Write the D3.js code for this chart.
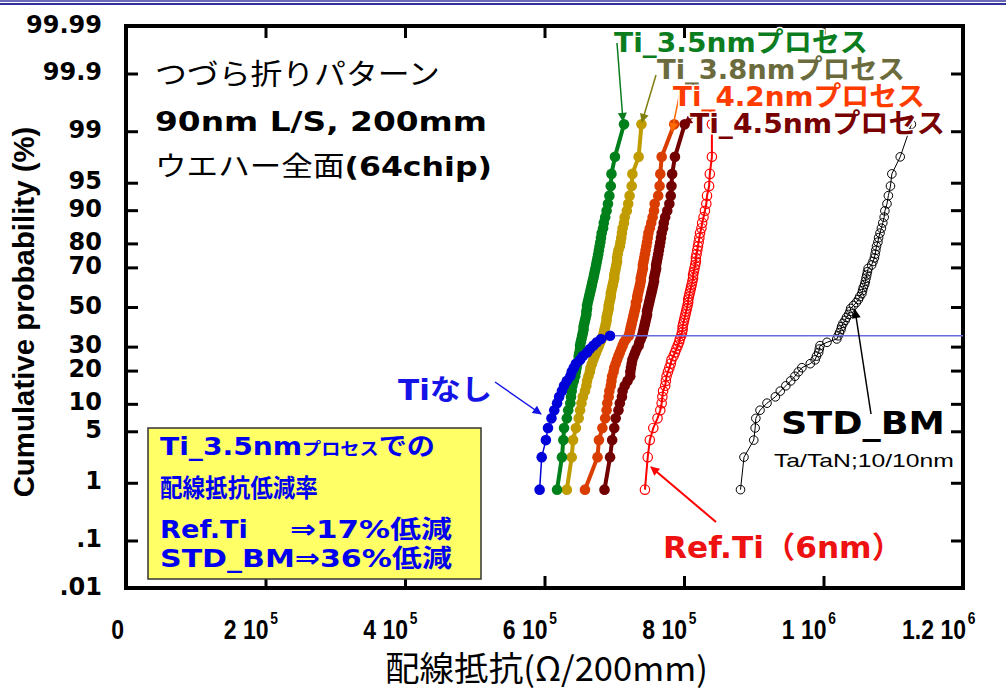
<!DOCTYPE html>
<html>
<head>
<meta charset="utf-8">
<script src="https://cdn.jsdelivr.net/npm/d3@7"></script>
<style>
body { margin: 0; background: #fff; }
svg { display: block; }
</style>
</head>
<body>
<svg width="1006" height="690"></svg>
<script>
// wiring resistance per chip, kOhm, sorted (64 chips per wafer)
const CHIPS = 64;
const tiNone = [593,596,602,605,610,614,618,621,625,628,632,637,639,642,645,651,655,661,665,670,675,681,694];
const ti35 = [618,625,627,628,632,634,637,638,639,640,642,644,645,646,647,649,649,650,651,651,
  652,653,654,655,656,656,657,658,659,660,660,661,661,662,663,664,665,666,667,668,
  669,670,671,672,673,674,675,676,677,678,679,680,681,682,684,685,687,689,691,693,695,696,701,714];
const ti38 = [632,639,641,645,649,651,653,655,658,660,661,663,665,666,668,670,672,674,676,678,
  680,682,684,685,686,687,688,689,689,690,691,692,692,693,694,695,695,696,697,698,
  699,700,700,701,702,703,704,704,705,706,708,709,710,711,712,714,715,718,720,722,725,726,735,739];
const ti42 = [658,676,678,683,687,689,690,692,693,695,696,697,699,700,702,704,706,708,710,712,
  714,717,721,722,723,724,725,726,727,728,729,730,731,731,733,733,734,735,736,737,
  738,738,739,740,741,741,742,743,744,745,746,747,748,749,751,753,755,757,758,763,765,766,768,786];
const ti45 = [686,694,697,700,702,706,708,711,712,715,719,723,723,724,725,726,728,730,732,735,
  736,738,740,741,742,743,744,745,746,747,747,748,749,750,751,752,753,754,755,756,
  757,757,758,759,760,760,761,762,763,764,765,766,767,768,770,771,773,776,779,781,782,783,787,801];
const refTi = [744,748,751,756,762,766,768,769,770,773,774,775,777,779,781,782,785,787,789,791,
  793,794,796,797,798,798,799,800,801,802,803,804,805,806,806,807,808,809,810,811,
  812,813,813,814,815,816,817,817,818,819,820,821,822,823,825,826,828,830,832,833,836,837,840,840];
const stdBM = [881,886,900,902,903,909,919,931,938,946,953,959,964,969,981,988,990,993,994,995,
  1005,1019,1021,1023,1025,1026,1028,1031,1033,1036,1038,1039,1043,1047,1050,1052,1055,1056,1057,1059,
  1060,1061,1062,1063,1064,1069,1071,1073,1074,1075,1076,1078,1079,1081,1083,1085,1087,1088,1091,1093,1096,1098,1110,1126];

const xTicks = [0, 200, 400, 600, 800, 1000, 1200];
const xTickMain = ["0", "2 10", "4 10", "6 10", "8 10", "1 10", "1.2 10"];
const xTickExp = ["", "5", "5", "5", "5", "6", "6"];
const probTicks = [0.01, 0.1, 1, 5, 10, 20, 30, 50, 70, 80, 90, 95, 99, 99.9, 99.99];
const probLabels = [".01", ".1", "1", "5", "10", "20", "30", "50", "70", "80", "90", "95", "99", "99.9", "99.99"];

const svg = d3.select("svg");
const plot = {left: 126, right: 963, top: 26, bottom: 588};

// inverse normal cdf (Acklam)
function probit(p) {
  const a = [-39.69683028665376, 220.9460984245205, -275.9285104469687, 138.3577518672690, -30.66479806614716, 2.506628277459239];
  const b = [-54.47609879822406, 161.5858368580409, -155.6989798598866, 66.80131188771972, -13.28068155288572];
  const c = [-0.007784894002430293, -0.3223964580411365, -2.400758277161838, -2.549732539343734, 4.374664141464968, 2.938163982698783];
  const d = [0.007784695709041462, 0.3224671290700398, 2.445134137142996, 3.754408661907416];
  const pl = 0.02425;
  let q, r;
  if (p < pl) {
    q = Math.sqrt(-2 * Math.log(p));
    return (((((c[0]*q+c[1])*q+c[2])*q+c[3])*q+c[4])*q+c[5]) / ((((d[0]*q+d[1])*q+d[2])*q+d[3])*q+1);
  }
  if (p <= 1 - pl) {
    q = p - 0.5; r = q * q;
    return (((((a[0]*r+a[1])*r+a[2])*r+a[3])*r+a[4])*r+a[5])*q / (((((b[0]*r+b[1])*r+b[2])*r+b[3])*r+b[4])*r+1);
  }
  q = Math.sqrt(-2 * Math.log(1 - p));
  return -(((((c[0]*q+c[1])*q+c[2])*q+c[3])*q+c[4])*q+c[5]) / ((((d[0]*q+d[1])*q+d[2])*q+d[3])*q+1);
}

const x = d3.scaleLinear().domain([0, 1200]).range([plot.left, plot.right]);
const z = d3.scaleLinear().domain([probit(0.0001), probit(0.9999)]).range([plot.bottom, plot.top]);
const y = pct => z(probit(pct / 100));
const rankPct = i => (i + 0.5) / CHIPS * 100;

// slide header lines
svg.append("line").attr("x1", 0).attr("x2", 1006).attr("y1", 1).attr("y2", 1)
  .attr("stroke", "#6a6ab8").attr("stroke-width", 2);
svg.append("line").attr("x1", 0).attr("x2", 1006).attr("y1", 4).attr("y2", 4)
  .attr("stroke", "#33339a").attr("stroke-width", 2);

// text helper, squeezes to a target width
function label(parent, parts, o) {
  const g = parent.append("g").attr("transform", `translate(${o.x},${o.y})${o.rot ? ` rotate(${o.rot})` : ""}`);
  const t = g.append("text")
    .attr("text-anchor", o.anchor || "start")
    .attr("fill", o.color || "#000")
    .style("font-family", o.family || "'DejaVu Sans', 'Noto Sans CJK JP', sans-serif")
    .style("font-weight", o.weight || "bold")
    .style("font-size", (o.size || 24) + "px");
  if (o.halo) t.attr("stroke", "#fff").attr("stroke-width", o.halo).attr("paint-order", "stroke").attr("stroke-linejoin", "round");
  parts.forEach(p => {
    const s = typeof p === "string" ? {text: p} : p;
    const ts = t.append("tspan").text(s.text);
    if (s.size) ts.style("font-size", s.size + "px");
    if (s.weight) ts.style("font-weight", s.weight);
    if (s.family) ts.style("font-family", s.family);
  });
  if (o.w) {
    const bw = t.node().getComputedTextLength();
    t.attr("transform", `scale(${o.w / bw},${o.sy || 1})`);
  }
  return t;
}

// axes ticks (inward)
const yTickVals = probTicks.map(p => probit(p / 100));
const axLeft = svg.append("g").attr("transform", `translate(${plot.left},0)`)
  .call(d3.axisLeft(z).tickValues(yTickVals).tickSizeInner(-12).tickSizeOuter(0).tickPadding(24)
    .tickFormat((d, i) => probLabels[i]));
axLeft.select(".domain").remove();
axLeft.selectAll("line").attr("stroke", "#000").attr("stroke-width", 3);
axLeft.selectAll("text").attr("dy", null).attr("y", 6).attr("fill", "#000")
  .style("font-family", "'DejaVu Sans', sans-serif").style("font-weight", "bold").style("font-size", "24px");

const axRight = svg.append("g").attr("transform", `translate(${plot.right},0)`)
  .call(d3.axisLeft(z).tickValues(yTickVals).tickSizeInner(12).tickSizeOuter(0).tickFormat(""));
axRight.select(".domain").remove();
axRight.selectAll("line").attr("stroke", "#000").attr("stroke-width", 3);

const axBottom = svg.append("g").attr("transform", `translate(0,${plot.bottom})`)
  .call(d3.axisBottom(x).tickValues(xTicks).tickSizeInner(-12).tickSizeOuter(0).tickFormat(""));
axBottom.select(".domain").remove();
axBottom.selectAll("line").attr("stroke", "#000").attr("stroke-width", 3);

const axTop = svg.append("g").attr("transform", `translate(0,${plot.top})`)
  .call(d3.axisTop(x).tickValues(xTicks).tickSizeInner(-12).tickSizeOuter(0).tickFormat(""));
axTop.select(".domain").remove();
axTop.selectAll("line").attr("stroke", "#000").attr("stroke-width", 3);

xTicks.forEach((v, i) => {
  const tx = x(v);
  const g = svg.append("g").attr("transform", `translate(${tx + (i === 0 ? -2 : 3)},639) scale(0.92,1.12)`);
  g.append("text").attr("text-anchor", "end")
    .style("font-family", "'Liberation Sans', Arial, sans-serif").style("font-weight", "bold").style("font-size", "25px")
    .text(xTickMain[i]);
  if (xTickExp[i]) {
    g.append("text").attr("x", 2).attr("y", -13)
      .style("font-family", "'Liberation Sans', Arial, sans-serif").style("font-weight", "bold").style("font-size", "15px")
      .text(xTickExp[i]);
  }
});

// frame
svg.append("rect").attr("x", plot.left).attr("y", plot.top)
  .attr("width", plot.right - plot.left).attr("height", plot.bottom - plot.top)
  .attr("fill", "none").attr("stroke", "#000").attr("stroke-width", 4);

// axis titles
label(svg, ["Cumulative probability (%)"], {x: 34, y: 312, rot: -90, anchor: "middle", size: 29, w: 371,
  family: "'Liberation Sans', Arial, sans-serif"});
label(svg, ["配線抵抗(Ω/200mm)"], {x: 385, y: 681, size: 30, w: 323, sy: 1.12, weight: "normal",
  family: "'Noto Sans CJK JP', sans-serif"});

// yellow summary box
svg.append("rect").attr("x", 148).attr("y", 428).attr("width", 333).attr("height", 151)
  .attr("fill", "#ffff66").attr("stroke", "#333").attr("stroke-width", 1.5);
const boxBlue = "#0000ee";
label(svg, ["Ti_3.5nm", {text: "プロセス", size: 17}, "での"], {x: 160, y: 455, size: 25, w: 275, color: boxBlue});
label(svg, ["配線抵抗低減率"], {x: 160, y: 497, size: 25, w: 158, color: boxBlue});
label(svg, ["Ref.Ti"], {x: 160, y: 538, size: 25, w: 88, color: boxBlue});
label(svg, ["⇒17%低減"], {x: 290, y: 538, size: 25, w: 162, color: boxBlue});
label(svg, ["STD_BM⇒36%低減"], {x: 160, y: 567, size: 25, w: 292, color: boxBlue});

// series
const series = [
  {values: stdBM, color: "#000", fill: "none", r: 4.3, lw: 1, sw: 1},
  {values: refTi, color: "#ff0000", fill: "none", r: 4.7, lw: 2, sw: 1.2},
  {values: ti45, color: "#730000", fill: "#730000", r: 5.3, lw: 4},
  {values: ti42, color: "#da3d00", fill: "#da3d00", r: 5.3, lw: 4},
  {values: ti38, color: "#c09c00", fill: "#c09c00", r: 5.3, lw: 4},
  {values: ti35, color: "#00801a", fill: "#00801a", r: 5.3, lw: 4},
  {values: tiNone, color: "#0000d8", fill: "#0000d8", r: 5.3, lw: 1.5}
];

const line = d3.line().x(d => x(d.v)).y(d => y(d.p));

series.forEach(s => {
  const pts = s.values.map((v, i) => ({v, p: rankPct(i)}));
  const g = svg.append("g");
  g.append("path").datum(pts).attr("d", line)
    .attr("fill", "none").attr("stroke", s.color).attr("stroke-width", s.lw);
  g.selectAll("circle").data(pts).join("circle")
    .attr("cx", d => x(d.v)).attr("cy", d => y(d.p)).attr("r", s.r)
    .attr("fill", s.fill)
    .attr("stroke", s.color).attr("stroke-width", s.sw || 0);
});

// open-failure level for the no-Ti wafer
const lastPct = rankPct(tiNone.length - 1);
svg.append("line")
  .attr("x1", x(tiNone[tiNone.length - 1]) + 5).attr("x2", x(1200))
  .attr("y1", y(lastPct)).attr("y2", y(lastPct))
  .attr("stroke", "#6a6ae0").attr("stroke-width", 1.5);

// arrows
const defs = svg.append("defs");
function arrow(x1, y1, x2, y2, color, w) {
  const id = "ah" + color.replace("#", "");
  if (defs.select("#" + id).empty()) {
    defs.append("marker").attr("id", id).attr("viewBox", "0 0 10 10").attr("refX", 9).attr("refY", 5)
      .attr("markerWidth", 11).attr("markerHeight", 9).attr("markerUnits", "userSpaceOnUse").attr("orient", "auto")
      .append("path").attr("d", "M0,0L10,5L0,10Z").attr("fill", color);
  }
  svg.append("line").attr("x1", x1).attr("y1", y1).attr("x2", x2).attr("y2", y2)
    .attr("stroke", color).attr("stroke-width", w || 1.5).attr("marker-end", `url(#${id})`);
}

arrow(617, 43, 623, 121, "#0b7d1f");
arrow(656, 75, 642, 122, "#7f7f10");
arrow(680, 92, 672, 131, "#ff6a00");
arrow(695, 116, 684, 124, "#780000");
arrow(495, 382, 541, 414, "#1414e6");
arrow(716, 522, 651, 467, "#ff0000", 2);
arrow(871, 414, 855, 310, "#000", 1.5);

// labels
label(svg, ["Ti_3.5nmプロセス"], {x: 614, y: 52, size: 27, w: 254, color: "#0b7d1f", halo: 3});
label(svg, ["Ti_3.8nmプロセス"], {x: 657, y: 79, size: 27, w: 248, color: "#6b6b3e", halo: 3});
label(svg, ["Ti_4.2nmプロセス"], {x: 673, y: 106, size: 27, w: 252, color: "#ff3c00", halo: 3});
label(svg, ["Ti_4.5nmプロセス"], {x: 690, y: 133, size: 27, w: 255, color: "#780000", halo: 3});

label(svg, ["つづら折りパターン"], {x: 155, y: 85, size: 29, w: 285, weight: "normal",
  family: "'Noto Sans CJK JP', sans-serif"});
label(svg, ["90nm L/S, 200mm"], {x: 155, y: 131, size: 27, w: 332});
label(svg, [{text: "ウエハー全面", weight: "normal", family: "'Noto Sans CJK JP', sans-serif"}, "(64chip)"],
  {x: 155, y: 176, size: 27, w: 337});

label(svg, ["Tiなし"], {x: 398, y: 400, size: 28, w: 94, color: "#1414e6"});
label(svg, ["Ref.Ti（6nm）"], {x: 663, y: 558, size: 30, w: 240, color: "#ee1111"});
label(svg, ["STD_BM"], {x: 781, y: 434, size: 32, w: 164});
label(svg, ["Ta/TaN;10/10nm"], {x: 774, y: 467, size: 19, w: 180, weight: "normal",
  family: "'Liberation Sans', Arial, sans-serif"});
</script>
</body>
</html>
